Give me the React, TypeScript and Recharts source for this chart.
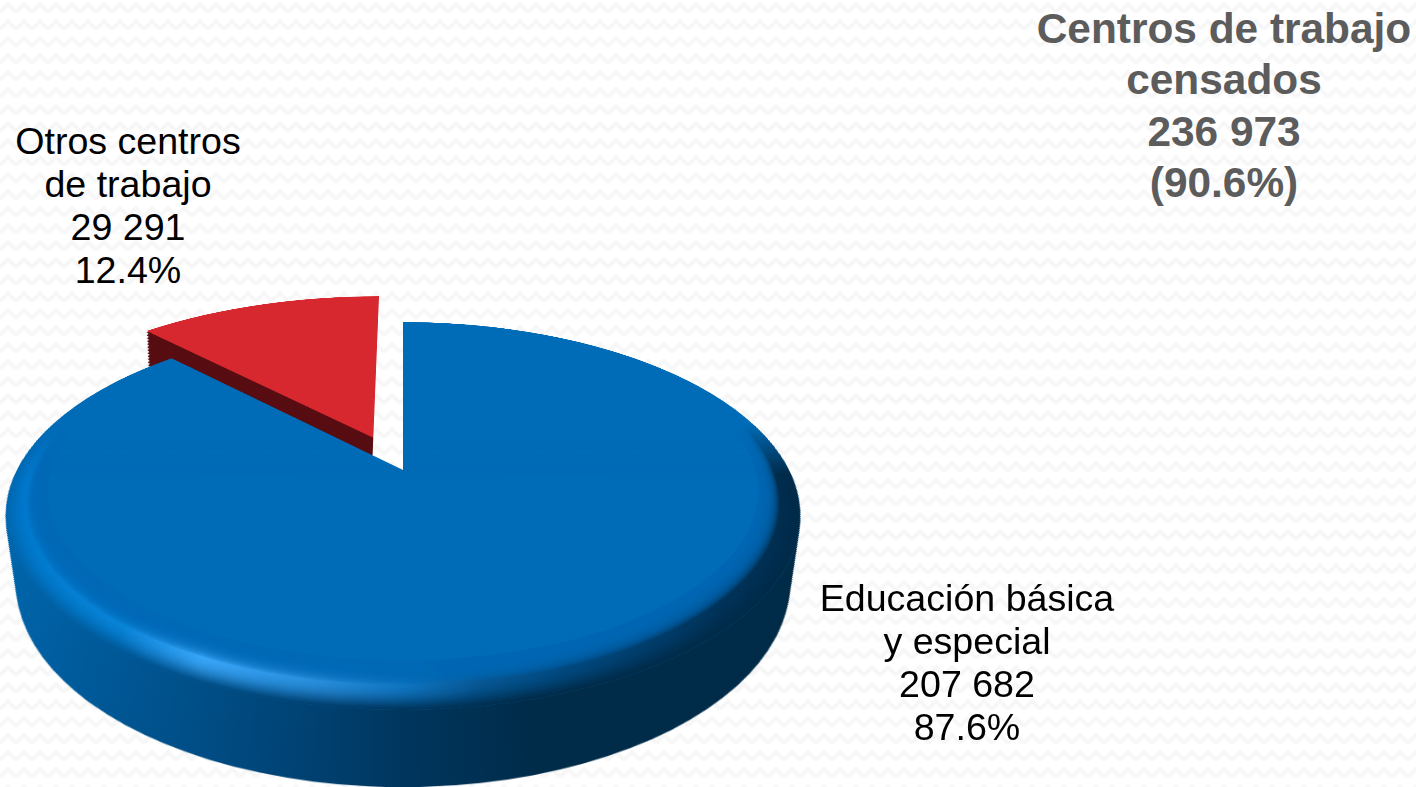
import { PieChart, Pie, Cell } from "recharts";

const categories = ["Educación básica y especial", "Otros centros de trabajo"];
const values = [207682, 29291];
const titleLines = ["Centros de trabajo", "censados", "236 973", "(90.6%)"];
const redLabel = ["Otros centros", "de trabajo", "29 291", "12.4%"];
const blueLabel = ["Educación básica", "y especial", "207 682", "87.6%"];

const slices = categories.map((name, i) => ({ name, value: values[i] }));

// chart canvas, tilted with a css perspective so the circle looks like the 3d pie
const W = 1000;
const H = 1000;
const CX = 500;
const CY = 480;
const R = 386;
const RED_R = 402;
const TILT = 61.7;
const PERSP = 1433;
const DEPTH = 76;
const SIN = Math.sin((TILT * Math.PI) / 180);
const COS = Math.cos((TILT * Math.PI) / 180);
const EXPLODE_X = -31;
const EXPLODE_Y = -71;
const BEVEL = 32;

const depths: number[] = [];
for (let n = DEPTH; n > 0; n -= 2) depths.push(n);

// parallel plane seen from the eye = same circle, scaled and shifted
function pieAt(depth: number) {
  const s = (PERSP * COS) / (PERSP * COS + depth);
  return { s, r: R * s, dy: PERSP * SIN * (1 - s) };
}

// rim of the top face: steps from the edge inwards, [position, opacity]
const bevelSteps: number[][] = [];
for (let i = 0; i < 18; i++) bevelSteps.push([0.03 + i * 0.026, 0.07 + i * 0.012]);
const flatSteps: number[][] = [];
for (let i = 0; i < 18; i++) flatSteps.push([0.5 + i * 0.028, 0.22]);

function layerPie(key: string, idx: number, cx: number, cy: number, inner: number, outer: number, fill: string, opacity = 1, mask?: string) {
  return (
    <Pie
      key={key}
      data={slices}
      dataKey="value"
      nameKey="name"
      cx={cx}
      cy={cy}
      innerRadius={inner}
      outerRadius={outer}
      startAngle={90}
      endAngle={-270}
      stroke="none"
      isAnimationActive={false}
      legendType="none"
    >
      {slices.map((_, i) => (
        <Cell key={i} fill={i === idx ? fill : "none"} fillOpacity={opacity} mask={i === idx ? mask : undefined} stroke="none" />
      ))}
    </Pie>
  );
}

function rimPie(key: string, t: number, fill: string, opacity: number) {
  return layerPie(key, 0, CX, CY - BEVEL * t, 230 - 80 * t, R - BEVEL * t, fill, opacity, "url(#rimCut)");
}

const textBase = {
  position: "absolute" as const,
  textAlign: "center" as const,
  fontFamily: "'Liberation Sans', Arial, sans-serif",
  whiteSpace: "nowrap" as const,
};

const zigzag =
  "url(\"data:image/svg+xml;utf8,<svg xmlns='http://www.w3.org/2000/svg' width='16' height='17'><path d='M0 12 L8 4 L16 12' fill='none' stroke='%23f7f7f7' stroke-width='4'/></svg>\")";

export default function App() {
  return (
    <div style={{ position: "fixed", left: 0, top: 0, width: 1416, height: 787, overflow: "hidden", background: "#fff", backgroundImage: zigzag }}>
      <div
        style={{
          position: "absolute",
          left: 403 - CX,
          top: 470 - CY,
          width: W,
          height: H,
          transformOrigin: `${CX}px ${CY}px`,
          transform: `perspective(${PERSP}px) rotateX(${TILT}deg)`,
        }}
      >
        <PieChart width={W} height={H} margin={{ top: 0, right: 0, bottom: 0, left: 0 }}>
          <defs>
            <linearGradient id="sideGrad" gradientUnits="userSpaceOnUse" x1={CX - R} y1={0} x2={CX + R} y2={0}>
              <stop offset="0" stopColor="#0068b0" />
              <stop offset="0.12" stopColor="#005fa2" />
              <stop offset="0.28" stopColor="#00508a" />
              <stop offset="0.42" stopColor="#004070" />
              <stop offset="0.5" stopColor="#00365e" />
              <stop offset="0.62" stopColor="#002c4a" />
              <stop offset="1" stopColor="#002b47" />
            </linearGradient>
            <linearGradient id="bevelGrad" gradientUnits="userSpaceOnUse" x1={CX - R} y1={0} x2={CX + R} y2={0}>
              <stop offset="0" stopColor="#0078cc" />
              <stop offset="0.2" stopColor="#0c86da" />
              <stop offset="0.29" stopColor="#3caafc" />
              <stop offset="0.42" stopColor="#2a90de" />
              <stop offset="0.5" stopColor="#1278c4" />
              <stop offset="0.58" stopColor="#0a5a98" />
              <stop offset="0.68" stopColor="#024a80" />
              <stop offset="0.85" stopColor="#02355c" />
              <stop offset="1" stopColor="#022e4e" />
            </linearGradient>
            <linearGradient id="coverGrad" gradientUnits="userSpaceOnUse" x1={0} y1={CY - 100} x2={0} y2={CY + 10}>
              <stop offset="0" stopColor="#fff" />
              <stop offset="1" stopColor="#000" />
            </linearGradient>
            <mask id="coverFade" maskUnits="userSpaceOnUse" x={0} y={0} width={W} height={H}>
              <rect x={0} y={0} width={W} height={H} fill="url(#coverGrad)" />
            </mask>
            <mask id="rimCut" maskUnits="userSpaceOnUse" x={0} y={CY - 100} width={W} height={H}>
              <rect x={0} y={CY - 100} width={W} height={H} fill="#fff" />
            </mask>
          </defs>

          {/* red slice first, the blue one covers its wall */}
          {depths.map((n) => {
            const p = pieAt(n);
            return layerPie(`rs${n}`, 1, CX + EXPLODE_X, CY + p.dy + EXPLODE_Y * p.s, 0, RED_R * p.s, "#570d12");
          })}
          {layerPie("rt", 1, CX + EXPLODE_X, CY + EXPLODE_Y, 0, RED_R, "#d6282e")}

          {depths.map((n) => {
            const p = pieAt(n);
            return layerPie(`bs${n}`, 0, CX, CY + p.dy, 0, p.r, "url(#sideGrad)");
          })}
          {layerPie("bt", 0, CX, CY, 0, R, "#006bb6")}
          {rimPie("edge", 0, "url(#sideGrad)", 1)}
          {bevelSteps.map(([t, o]) => rimPie(`bv${t}`, t, "url(#bevelGrad)", o))}
          {flatSteps.map(([t, o]) => rimPie(`fl${t}`, t, "#006bb6", o))}
          {rimPie("flat", 1, "#006bb6", 1)}
          {layerPie("cover", 0, CX, CY, 0, R, "#006bb6", 1, "url(#coverFade)")}
        </PieChart>
      </div>

      <div style={{ ...textBase, left: 1024, width: 400, top: 3, fontSize: 42.4, lineHeight: "51.3px", fontWeight: 700, color: "#5c5c5c" }}>
        {titleLines.map((t) => <div key={t}>{t}</div>)}
      </div>
      <div style={{ ...textBase, left: -72, width: 400, top: 120, fontSize: 37.6, lineHeight: "43px", color: "#000" }}>
        {redLabel.map((t) => <div key={t}>{t}</div>)}
      </div>
      <div style={{ ...textBase, left: 767, width: 400, top: 577, fontSize: 37.6, lineHeight: "43px", color: "#000" }}>
        {blueLabel.map((t) => <div key={t}>{t}</div>)}
      </div>
    </div>
  );
}
